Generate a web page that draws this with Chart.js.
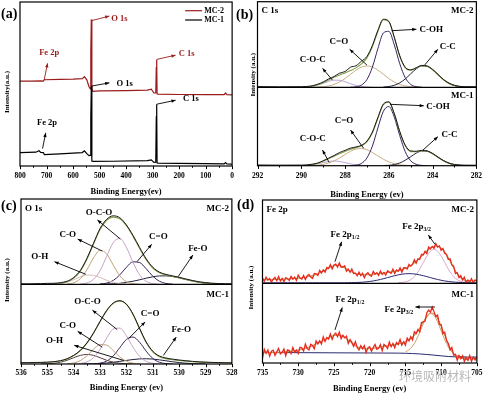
<!DOCTYPE html>
<html>
<head>
<meta charset="utf-8">
<title>XPS spectra of MC-1 and MC-2</title>
<script src="https://cdn.jsdelivr.net/npm/chart.js@4.4.1/dist/chart.umd.min.js"></script>
<style>
  body { margin: 0; background: #fff; }
  #fig { position: relative; width: 484px; height: 397px; overflow: hidden; background: #fff; }
  #fig canvas { position: absolute; }
  .tag { position: absolute; font: bold 14px "Liberation Serif", serif; color: #000; line-height: 1; }
  .mark { position: absolute; font: 12px "Noto Sans CJK SC", sans-serif; color: #b8b8b8; line-height: 1; }
</style>
</head>
<body>
<div id="fig">
  <canvas id="surveyChart" width="240" height="197" style="left:0;top:0"></canvas>
  <canvas id="c1sChart" width="252" height="200" style="left:236px;top:0"></canvas>
  <canvas id="o1sChart" width="242" height="200" style="left:0;top:197px"></canvas>
  <canvas id="fe2pChart" width="252" height="200" style="left:236px;top:197px"></canvas>
  <div class="tag" style="left:1px;top:7px">(a)</div>
  <div class="tag" style="left:236px;top:8px">(b)</div>
  <div class="tag" style="left:1px;top:199px">(c)</div>
  <div class="tag" style="left:237px;top:198px">(d)</div>
  <div class="mark" style="left:399px;top:370px">环境吸附材料</div>
</div>
<script>
// ---- (a) survey ----
const surveyEnergyMC2 = [800, 760, 720, 712, 708, 650, 600, 565, 557, 548, 540, 535, 533, 531, 529, 525, 500, 400, 320, 305, 295, 288, 286, 284.5, 283, 280, 200, 100, 30, 25, 20, 0];
const surveyMC2 = [51.7, 51.8, 51.9, 51.8, 52.6, 52.8, 53.0, 53.3, 54.5, 52.5, 48.5, 47, 70, 89.4, 47, 45.5, 45.8, 46.0, 46.3, 46.8, 44.5, 44.5, 60, 65, 44, 43.8, 43.6, 43.5, 43.5, 44.5, 43.5, 43.4];
const surveyEnergyMC1 = [800, 740, 728, 722, 712, 708, 650, 600, 565, 557, 548, 540, 535, 533, 531, 529, 525, 450, 320, 305, 295, 288, 286, 284.5, 283, 280, 200, 100, 30, 25, 20, 0];
const surveyMC1 = [8.2, 8.4, 9.3, 8.3, 8.2, 7.0, 7.4, 7.8, 8.2, 9.3, 7.5, 6.3, 6.5, 30, 48.7, 3.0, 2.8, 2.9, 3.3, 3.7, 2.2, 2.3, 30, 37.7, 1.9, 1.8, 1.6, 1.4, 1.3, 2.1, 1.3, 1.2];

// ---- (b) C 1s ----
const c1sEnergy = [292, 291, 290, 289.75, 289.5, 289.25, 289, 288.75, 288.5, 288.25, 288, 287.75, 287.5, 287.25, 287, 286.75, 286.5, 286.25, 286, 285.75, 285.5, 285.25, 285, 284.75, 284.5, 284.25, 284, 283.75, 283.5, 283.25, 283, 282.75, 282.5, 282];
const c1sRawMC2 = [0.8, 0.6, 0.7, 1.0, 1.8, 3.6, 6.2, 9.8, 12.6, 16.5, 18.4, 23.5, 25.2, 30.5, 36.0, 49.0, 66.5, 79.5, 77.0, 58.5, 36.8, 23.4, 20.5, 22.8, 25.6, 24.9, 20.9, 15.0, 9.1, 4.9, 2.4, 1.1, 0.7, 0.6];
const c1sFitMC2 = [0, 0, 0.1, 0.4, 1.2, 2.9, 5.4, 8.5, 11.8, 14.4, 16.8, 19.5, 22.7, 27.3, 34.4, 47.4, 65.2, 78.9, 76.6, 58.1, 36.1, 22.6, 19.9, 22.5, 25.1, 24.5, 20.5, 14.6, 8.8, 4.5, 2.0, 0.7, 0.2, 0];
const c1sRawMC1 = [0.9, 0.7, 0.8, 1.0, 1.9, 3.4, 6.3, 9.6, 13.0, 16.8, 19.5, 22.4, 23.9, 26.0, 31.5, 43.0, 61.5, 78.6, 81.5, 66.3, 43.6, 26.1, 18.9, 18.4, 19.6, 18.9, 15.7, 11.0, 6.6, 3.4, 1.6, 0.9, 0.7, 0.6];
const c1sFitMC1 = [0, 0, 0.1, 0.6, 1.4, 3.1, 5.7, 8.8, 12.1, 15.3, 18.2, 20.9, 23.0, 25.4, 30.3, 41.9, 60.6, 77.9, 80.9, 66.0, 43.1, 25.4, 18.0, 17.8, 19.1, 18.5, 15.2, 10.6, 6.2, 3.0, 1.2, 0.4, 0.1, 0];

function gap(before, values, after) {
  return Array(before).fill(null).concat(values, Array(after).fill(null));
}

const c1sCOH_MC2 = gap(11, [0.1, 0.5, 2.6, 9.1, 23.6, 45.2, 63.4, 65.4, 49.5, 27.5, 11.2, 3.4, 0.7, 0.1], 9);
const c1sCC_MC2 = gap(17, [0.3, 0.9, 2.4, 5.2, 9.8, 15.8, 21.5, 24.9, 24.5, 20.5, 14.6, 8.8, 4.5, 2.0, 0.7, 0.2, 0], 0);
const c1sCdO_MC2 = gap(4, [0.1, 0.3, 0.7, 1.6, 3.4, 6.2, 10.3, 15.2, 20.0, 23.7, 25.0, 23.7, 20.0, 15.2, 10.3, 6.2, 3.4, 1.6, 0.7, 0.3, 0.1], 9);
const c1sCOC_MC2 = gap(2, [0.1, 0.4, 1.1, 2.6, 4.7, 6.9, 8.4, 8.2, 6.5, 4.2, 2.2, 1.0, 0.3, 0.1], 18);
const c1sCOH_MC1 = gap(11, [0.1, 0.7, 2.9, 9.9, 25.1, 48.1, 69.4, 75.5, 61.9, 38.4, 17.9, 6.3, 1.7, 0.4, 0.1], 8);
const c1sCC_MC1 = gap(17, [0.2, 0.5, 1.5, 3.5, 7.0, 11.5, 16.0, 18.7, 18.4, 15.2, 10.6, 6.2, 3.0, 1.2, 0.4, 0.1, 0], 0);
const c1sCdO_MC1 = gap(3, [0.1, 0.3, 0.7, 1.7, 3.4, 6.1, 9.9, 14.2, 18.4, 21.2, 22.0, 20.3, 16.8, 12.5, 8.3, 4.9, 2.6, 1.2, 0.5, 0.2, 0.1], 10);
const c1sCOC_MC1 = gap(2, [0.1, 0.5, 1.1, 2.4, 4.0, 5.4, 6.0, 5.4, 4.0, 2.4, 1.1, 0.5, 0.1], 19);

// ---- (c) O 1s ----
const o1sEnergy = [536, 535.75, 535.5, 535.25, 535, 534.75, 534.5, 534.25, 534, 533.75, 533.5, 533.25, 533, 532.75, 532.5, 532.25, 532, 531.75, 531.5, 531.25, 531, 530.75, 530.5, 530.25, 530, 529.75, 529.5, 529.25, 529, 528.75, 528.5, 528.25, 528];
const o1sRawMC2 = [0.6, 0.5, 0.7, 0.8, 1.1, 1.2, 2.0, 3.6, 8.0, 16.2, 30.4, 48.0, 65.5, 76.2, 80.3, 78.0, 69.5, 57.3, 43.2, 29.8, 20.0, 14.3, 11.6, 9.9, 8.2, 6.3, 4.5, 3.0, 2.0, 1.3, 0.9, 0.7, 0.6];
const o1sFitMC2 = [0, 0, 0, 0, 0.1, 0.3, 1.0, 2.9, 7.2, 15.4, 29.3, 47.3, 64.2, 74.9, 78.7, 76.8, 68.7, 56.2, 42.0, 28.9, 19.1, 13.5, 10.9, 9.3, 7.6, 5.7, 3.9, 2.4, 1.4, 0.7, 0.3, 0.1, 0];
const o1sRawMC1 = [1.6, 1.7, 1.9, 2.0, 2.3, 2.9, 4.2, 6.6, 10.8, 17.0, 26.4, 38.9, 53.6, 67.2, 76.6, 79.4, 75.0, 62.5, 44.6, 27.6, 16.0, 10.0, 7.5, 6.1, 5.0, 4.1, 3.3, 2.7, 2.3, 2.0, 1.8, 1.6, 1.5];
const o1sFitMC1 = [1.5, 1.6, 1.7, 1.9, 2.2, 2.8, 4.0, 6.4, 10.6, 16.9, 26.1, 38.6, 53.2, 66.7, 76.0, 79.2, 74.9, 62.2, 44.1, 26.9, 15.3, 9.2, 6.7, 5.4, 4.4, 3.6, 2.9, 2.4, 2.1, 1.9, 1.7, 1.6, 1.5];

const o1sOCO_MC2 = gap(9, [0.3, 1.5, 5.8, 16.1, 32.8, 48.9, 53.7, 43.2, 25.6, 11.1, 3.5, 0.8, 0.1], 11);
const o1sCO_MC2 = gap(7, [0.3, 1.8, 6.5, 17.0, 31.0, 39.7, 35.7, 22.5, 10.0, 3.1, 0.7, 0.1], 14);
const o1sOH_MC2 = gap(4, [0.1, 0.3, 1.0, 2.6, 5.4, 8.6, 10.8, 10.5, 8.0, 4.7, 2.2, 0.8, 0.2], 16);
const o1sCdO_MC2 = gap(12, [0.3, 1.4, 4.5, 11.1, 20.0, 26.3, 25.5, 18.2, 9.5, 3.6, 1.0, 0.2], 9);
const o1sFeO_MC2 = gap(12, [0.1, 0.3, 0.6, 1.2, 2.2, 3.6, 5.3, 7.2, 8.8, 9.8, 9.9, 9.1, 7.6, 5.7, 3.9, 2.4, 1.4, 0.7, 0.3, 0.1, 0], 0);
const o1sOCO_MC1 = gap(8, [0.1, 0.7, 2.6, 7.9, 18.4, 32.5, 43.8, 45.0, 35.3, 21.1, 9.6, 3.3, 0.9, 0.2], 11);
const o1sCO_MC1 = gap(7, [0.3, 1.3, 4.2, 10.3, 18.5, 24.4, 23.7, 16.8, 8.8, 3.4, 1.0, 0.2], 14);
const o1sOH_MC1 = gap(3, [0.1, 0.3, 0.9, 2.3, 4.7, 7.9, 10.8, 12.0, 10.8, 7.9, 4.7, 2.3, 0.9, 0.3, 0.1], 15);
const o1sCdO_MC1 = gap(11, [0.2, 1.0, 3.7, 10.1, 20.6, 30.8, 33.8, 27.2, 16.1, 7.0, 2.2, 0.5, 0.1], 9);
const o1sFeO_MC1 = gap(9, [0.1, 0.2, 0.3, 0.7, 1.3, 2.1, 3.3, 4.5, 5.6, 6.4, 6.6, 6.2, 5.2, 4.0, 2.8, 1.8, 1.0, 0.5, 0.2, 0.1], 4);

// ---- (d) Fe 2p ----
const fe2pEnergy = [735, 734.75, 734.5, 734.25, 734, 733.75, 733.5, 733.25, 733, 732.75, 732.5, 732.25, 732, 731.75, 731.5, 731.25, 731, 730.75, 730.5, 730.25,
  730, 729.75, 729.5, 729.25, 729, 728.75, 728.5, 728.25, 728, 727.75, 727.5, 727.25, 727, 726.75, 726.5, 726.25, 726, 725.75, 725.5, 725.25,
  725, 724.75, 724.5, 724.25, 724, 723.75, 723.5, 723.25, 723, 722.75, 722.5, 722.25, 722, 721.75, 721.5, 721.25, 721, 720.75, 720.5, 720.25,
  720, 719.75, 719.5, 719.25, 719, 718.75, 718.5, 718.25, 718, 717.75, 717.5, 717.25, 717, 716.75, 716.5, 716.25, 716, 715.75, 715.5, 715.25,
  715, 714.75, 714.5, 714.25, 714, 713.75, 713.5, 713.25, 713, 712.75, 712.5, 712.25, 712, 711.75, 711.5, 711.25, 711, 710.75, 710.5, 710.25,
  710, 709.75, 709.5, 709.25, 709, 708.75, 708.5, 708.25, 708, 707.75, 707.5, 707.25, 707, 706.75, 706.5, 706.25, 706, 705.75, 705.5, 705.25, 705];
const fe2pRawMC2 = [6.6, 2.7, 7.5, 4.0, 5.8, 1.8, 5.1, 7.4, 3.3, 8.3, 2.8, 6.0, 2.1, 7.0, 5.6, 3.7, 8.5, 5.1, 7.5, 3.6,
  10.0, 6.4, 5.2, 9.4, 4.7, 8.9, 10.8, 7.7, 6.1, 12.0, 11.4, 9.7, 15.7, 12.6, 16.2, 13.6, 19.2, 17.9, 22.5, 17.5,
  22.1, 23.2, 19.7, 24.6, 19.4, 19.6, 21.1, 14.8, 17.3, 13.4, 17.3, 12.0, 12.3, 9.2, 13.6, 9.4, 12.2, 7.0, 11.1, 12.9,
  9.7, 8.5, 14.4, 11.1, 13.0, 9.8, 14.8, 10.8, 13.2, 10.1, 15.3, 13.6, 12.3, 17.2, 11.9, 16.2, 14.7, 18.8, 13.5, 18.9,
  18.6, 17.3, 22.9, 20.7, 22.9, 28.3, 24.2, 29.6, 28.7, 34.9, 34.2, 38.6, 35.8, 43.7, 41.3, 44.3, 42.2, 47.7, 43.7, 44.9,
  39.6, 42.0, 36.2, 34.8, 28.7, 29.5, 22.3, 20.8, 11.9, 12.9, 7.1, 9.3, 4.2, 7.5, 1.0, 4.2, 1.8, 5.7, 1.0, 4.3, 2.6];
const fe2pRawMC1 = [6.0, 17.1, 12.2, 16.3, 8.5, 14.7, 16.0, 9.6, 14.0, 18.4, 11.5, 13.4, 17.5, 9.1, 16.5, 15.6, 11.7, 19.5, 13.8, 16.1,
  12.0, 19.7, 19.0, 15.0, 23.7, 18.1, 16.5, 23.4, 21.9, 18.0, 27.7, 24.0, 28.0, 23.9, 32.9, 27.1, 32.0, 30.1, 36.4, 29.8,
  35.4, 37.6, 33.0, 38.8, 30.6, 34.9, 31.6, 33.7, 24.6, 29.5, 25.9, 21.0, 26.8, 19.4, 16.5, 21.8, 18.0, 21.7, 13.3, 19.0,
  20.4, 14.7, 19.4, 23.2, 17.2, 18.6, 23.2, 15.6, 23.3, 21.5, 18.3, 26.4, 20.6, 24.6, 19.2, 25.7, 23.3, 29.6, 22.6, 26.7,
  22.5, 31.4, 27.9, 33.0, 29.1, 39.2, 37.0, 42.2, 39.1, 50.8, 51.7, 52.7, 63.2, 66.5, 64.0, 70.2, 64.6, 58.6, 60.1, 48.5,
  48.2, 36.7, 38.8, 28.2, 24.6, 16.5, 19.4, 10.0, 10.8, 3.5, 9.5, 5.5, 9.0, 2.2, 6.5, 3.4, 9.4, 2.1, 7.4, 3.9, 8.3];

const fe2pFitEnergy = [735, 734.5, 734, 733.5, 733, 732.5, 732, 731.5, 731, 730.5, 730, 729.5, 729, 728.5, 728, 727.5, 727, 726.5, 726, 725.5,
  725, 724.5, 724, 723.5, 723, 722.5, 722, 721.5, 721, 720.5, 720, 719.5, 719, 718.5, 718, 717.5, 717, 716.5, 716, 715.5,
  715, 714.5, 714, 713.5, 713, 712.5, 712, 711.5, 711, 710.5, 710, 709.5, 709, 708.5, 708, 707.5, 707, 706.5, 706, 705.5, 705];
const fe2pFitMC2 = [4.5, 4.5, 4.6, 4.7, 4.8, 5.0, 5.2, 5.4, 5.7, 6.0, 6.4, 6.9, 7.5, 8.3, 9.4, 10.8, 12.6, 14.8, 17.2, 19.6,
  21.3, 21.8, 20.8, 18.7, 16.2, 13.8, 12.0, 10.9, 10.4, 10.4, 10.7, 11.2, 11.7, 12.2, 12.7, 13.2, 13.8, 14.5, 15.4, 16.6,
  18.2, 20.4, 23.2, 26.6, 30.5, 34.8, 39.0, 42.5, 44.5, 44.6, 42.3, 37.6, 30.8, 22.8, 14.9, 8.7, 5.0, 3.5, 3.1, 3.0, 3.0];
const fe2pBaseMC2 = [0.8, 0.8, 0.8, 0.8, 0.8, 0.8, 0.8, 0.8, 0.8, 0.8, 0.8, 0.8, 0.8, 0.8, 0.8, 0.8, 0.8, 0.8, 0.8, 0.8,
  0.8, 0.8, 0.8, 0.8, 0.9, 1.0, 1.1, 1.3, 1.5, 1.9, 2.4, 3.0, 3.8, 4.8, 5.8, 7.0, 8.2, 9.3, 10.3, 11.1,
  11.6, 11.8, 11.6, 11.1, 10.3, 9.3, 8.2, 7.0, 5.8, 4.8, 3.8, 3.0, 2.4, 1.9, 1.5, 1.3, 1.1, 1.0, 0.9, 0.8, 0.8];
const fe2pFitMC1 = [13.0, 13.0, 13.1, 13.2, 13.4, 13.6, 13.9, 14.3, 14.8, 15.4, 16.2, 17.2, 18.5, 20.0, 21.8, 23.8, 26.0, 28.3, 30.7, 33.0,
  34.6, 35.2, 34.4, 32.2, 29.0, 25.4, 22.0, 19.5, 18.2, 17.8, 18.0, 18.5, 19.2, 19.9, 20.7, 21.5, 22.3, 23.1, 24.0, 25.2,
  26.8, 29.0, 32.5, 37.5, 44.0, 51.5, 58.5, 62.8, 61.8, 56.0, 46.5, 35.0, 24.0, 15.0, 9.3, 6.8, 5.8, 5.5, 5.4, 5.4, 5.4];
const fe2pBaseEnergyMC1 = [735, 730, 725, 720, 716, 715, 714, 713, 712, 711, 710, 709, 708, 707, 706, 705];
const fe2pBaseMC1 = [13.2, 13.0, 12.8, 12.6, 12.4, 12.2, 11.9, 11.4, 10.7, 9.9, 9.0, 8.2, 7.7, 7.5, 7.4, 7.4];
const fe2pPeakEnergyMC2 = [716, 715.5, 715, 714.5, 714, 713.5, 713, 712.5, 712, 711.5, 711, 710.5, 710, 709.5, 709, 708.5, 708, 707.5, 707, 706.5, 706];
const fe2pPeakMC2 = [1.0, 1.2, 1.9, 3.4, 6.2, 10.8, 17.2, 25.1, 32.8, 38.6, 40.8, 38.6, 32.8, 25.1, 17.2, 10.8, 6.2, 3.4, 1.9, 1.2, 1.0];
const fe2pPeakEnergyMC1 = [715, 714.5, 714, 713.5, 713, 712.5, 712, 711.5, 711, 710.5, 710, 709.5, 709, 708.5, 708, 707.5, 707, 706.5];
const fe2pPeakMC1 = [14.1, 16.6, 21.2, 28.6, 38.5, 49.3, 58.1, 62.2, 59.8, 51.8, 40.5, 29.3, 20.2, 14.1, 10.4, 8.7, 7.9, 7.6];

// ---- drawing ----
Chart.defaults.font.family = '"Liberation Serif", "Times New Roman", serif';
Chart.defaults.color = '#000';
const serif = '"Liberation Serif", serif';

function curve(xs, ys, color, width, axis, order, smooth) {
  return {
    data: xs.map((x, i) => ({ x: x, y: ys[i] })),
    yAxisID: axis,
    borderColor: color,
    borderWidth: width,
    pointRadius: 0,
    fill: false,
    order: order,
    cubicInterpolationMode: smooth ? 'monotone' : 'default',
    tension: 0
  };
}

function arrow(ctx, x1, y1, x2, y2) {
  const ang = Math.atan2(y2 - y1, x2 - x1), h = 4.5;
  ctx.beginPath(); ctx.moveTo(x1, y1); ctx.lineTo(x2, y2); ctx.stroke();
  ctx.beginPath();
  ctx.moveTo(x2, y2);
  ctx.lineTo(x2 - h * Math.cos(ang - 0.38), y2 - h * Math.sin(ang - 0.38));
  ctx.lineTo(x2 - h * Math.cos(ang + 0.38), y2 - h * Math.sin(ang + 0.38));
  ctx.closePath(); ctx.fill();
}

function drawLabel(ctx, n, x, y, size) {
  const main = 'bold ' + size + 'px ' + serif;
  const small = 'bold ' + (size * 0.65).toFixed(1) + 'px ' + serif;
  ctx.font = main;
  const w1 = ctx.measureText(n.t).width;
  let w2 = 0;
  if (n.sub) { ctx.font = small; w2 = ctx.measureText(n.sub).width; }
  const w = w1 + w2;
  const x0 = n.al === 'left' ? x : n.al === 'right' ? x - w : x - w / 2;
  ctx.textAlign = 'left';
  ctx.font = main;
  ctx.fillText(n.t, x0, y);
  if (n.sub) { ctx.font = small; ctx.fillText(n.sub, x0 + w1, y + size * 0.3); }
}

const decor = {
  id: 'decor',
  afterDatasetsDraw(chart, args, o) {
    const { ctx, chartArea: a, scales } = chart;
    const sx = scales.x;
    ctx.save();
    ctx.strokeStyle = '#000';
    ctx.lineWidth = 1.2;
    ctx.strokeRect(a.left, a.top, a.right - a.left, a.bottom - a.top);
    let mid = a.top;
    if (scales.yTop) {
      mid = scales.yTop.getPixelForValue(0);
      ctx.beginPath(); ctx.moveTo(a.left, mid); ctx.lineTo(a.right, mid); ctx.stroke();
    }
    // outward ticks, majors every second minor
    ctx.lineWidth = 1;
    const count = Math.round((sx.max - sx.min) / o.minor);
    for (let i = 0; i <= count; i++) {
      const px = Math.round(sx.getPixelForValue(sx.min + i * o.minor)) + 0.5;
      ctx.beginPath(); ctx.moveTo(px, a.bottom); ctx.lineTo(px, a.bottom + (i % 2 ? 1.8 : 3.2)); ctx.stroke();
    }
    ctx.fillStyle = '#000';
    ctx.textBaseline = 'middle';
    ctx.save();
    ctx.translate(a.left - o.yTitle.dx, (a.top + a.bottom) / 2 + o.yTitle.dy);
    ctx.rotate(-Math.PI / 2);
    ctx.textAlign = 'center';
    ctx.font = 'bold 7px ' + serif;
    ctx.fillText(o.yTitle.text, 0, 0);
    ctx.restore();
    ctx.font = 'bold 9px ' + serif;
    for (const c of o.corners || []) {
      ctx.textAlign = c.left ? 'left' : 'right';
      ctx.fillText(c.t, c.left ? a.left + 4 : a.right - 3, (c.mid ? mid : a.top) + c.dy);
    }
    if (o.legend) {
      ctx.font = 'bold 8px ' + serif;
      ctx.textAlign = 'left';
      o.legend.forEach((l, i) => {
        const y = a.top + 8.7 + i * 9.3;
        ctx.strokeStyle = l.color; ctx.lineWidth = 1.2;
        ctx.beginPath(); ctx.moveTo(a.right - 47, y); ctx.lineTo(a.right - 30, y); ctx.stroke();
        ctx.fillStyle = '#000';
        ctx.fillText(l.label, a.right - 28, y);
      });
    }
    for (const n of o.notes || []) {
      const ys = scales[n.axis];
      ctx.strokeStyle = n.color || '#000';
      ctx.fillStyle = n.color || '#000';
      ctx.lineWidth = 0.9;
      arrow(ctx, sx.getPixelForValue(n.tail[0]), ys.getPixelForValue(n.tail[1]),
        sx.getPixelForValue(n.head[0]), ys.getPixelForValue(n.head[1]));
      drawLabel(ctx, n, sx.getPixelForValue(n.x), ys.getPixelForValue(n.y), o.noteSize);
    }
    ctx.restore();
  }
};
Chart.register(decor);

function xAxis(min, max, step, height, pad, title) {
  return {
    type: 'linear', min: min, max: max, reverse: true,
    afterFit(s) { s.height = height; },
    grid: { display: false, drawTicks: false },
    border: { display: false },
    ticks: { stepSize: step, autoSkip: false, maxRotation: 0, padding: pad, font: { size: 7.5, weight: 'bold' } },
    title: { display: true, text: title, font: { size: 8.5, weight: 'bold' }, padding: 0 }
  };
}

// two hidden axes sharing the plot: top spectrum above the divider, bottom one below it
function splitAxes(topFrac) {
  return {
    yTop: { type: 'linear', display: false, min: -100 * (1 - topFrac) / topFrac, max: 100 },
    yBot: { type: 'linear', display: false, min: 0, max: 100 / (1 - topFrac) }
  };
}

function makeChart(id, datasets, padding, scales, decorOpts) {
  return new Chart(document.getElementById(id), {
    type: 'line',
    data: { datasets: datasets },
    options: {
      responsive: false, animation: false, events: [],
      layout: { padding: padding },
      plugins: { legend: { display: false }, tooltip: { enabled: false }, decor: decorOpts },
      scales: scales
    }
  });
}

// (a)
const red = '#9a1c1c';
makeChart('surveyChart', [
  curve(surveyEnergyMC2, surveyMC2, red, 1.2, 'y', 1, false),
  curve(surveyEnergyMC1, surveyMC1, '#000', 1.2, 'y', 0, false)
], { left: 20, right: 6.5, top: 2, bottom: 0 },
  { x: xAxis(0, 800, 100, 31, 6, 'Binding Energy(ev)'), y: { type: 'linear', display: false, min: 0, max: 100 } },
  {
    minor: 50, noteSize: 8.5,
    yTitle: { text: 'Intensity(a.u.)', dx: 13.3, dy: 8 },
    legend: [{ label: 'MC-2', color: red }, { label: 'MC-1', color: '#000' }],
    notes: [
      { t: 'Fe 2p', x: 690, y: 69.3, axis: 'y', color: red, tail: [709, 52.4], head: [696, 62.6] },
      { t: 'O 1s', x: 456, y: 89.5, al: 'left', axis: 'y', color: red, tail: [531, 88.6], head: [463, 91.4] },
      { t: 'C 1s', x: 201, y: 68.7, al: 'left', axis: 'y', color: red, tail: [284, 65], head: [213, 67.6] },
      { t: 'Fe 2p', x: 698, y: 26.3, axis: 'y', tail: [715, 10.6], head: [703, 20.2] },
      { t: 'O 1s', x: 436, y: 50.3, al: 'left', axis: 'y', tail: [531, 48.7], head: [463, 50.7] },
      { t: 'C 1s', x: 185, y: 40.7, al: 'left', axis: 'y', tail: [284, 37.7], head: [213, 40.1] }
    ]
  });

// (b)
const green = '#86a04a', rawInk = '#1a1a1a';
makeChart('c1sChart', [
  curve(c1sEnergy, c1sRawMC2, rawInk, 1, 'yTop', 0, true),
  curve(c1sEnergy, c1sFitMC2, green, 1.1, 'yTop', 1, true),
  curve(c1sEnergy, c1sCOH_MC2, '#3c2360', 1, 'yTop', 2, true),
  curve(c1sEnergy, c1sCC_MC2, '#1f2140', 1, 'yTop', 2, true),
  curve(c1sEnergy, c1sCdO_MC2, '#c8ad84', 1, 'yTop', 2, true),
  curve(c1sEnergy, c1sCOC_MC2, '#b9a6d6', 1, 'yTop', 2, true),
  curve(c1sEnergy, c1sRawMC1, rawInk, 1, 'yBot', 0, true),
  curve(c1sEnergy, c1sFitMC1, green, 1.1, 'yBot', 1, true),
  curve(c1sEnergy, c1sCOH_MC1, '#3c2360', 1, 'yBot', 2, true),
  curve(c1sEnergy, c1sCC_MC1, '#1f2140', 1, 'yBot', 2, true),
  curve(c1sEnergy, c1sCdO_MC1, '#c8ad84', 1, 'yBot', 2, true),
  curve(c1sEnergy, c1sCOC_MC1, '#b9a6d6', 1, 'yBot', 2, true)
], { left: 21.5, right: 9, top: 1.7, bottom: 0 },
  Object.assign({ x: xAxis(282, 292, 2, 34.3, 6, 'Binding Energy (ev)') }, splitAxes(0.522)),
  {
    minor: 1, noteSize: 9,
    yTitle: { text: 'Intensity (a.u.)', dx: 4.8, dy: -9 },
    corners: [{ t: 'C 1s', left: true, dy: 8.5 }, { t: 'MC-2', dy: 8.5 }, { t: 'MC-1', dy: 8, mid: true }],
    notes: [
      { t: 'C-OH', x: 284.6, y: 67.8, al: 'left', axis: 'yTop', tail: [285.87, 66.1], head: [284.74, 67.8] },
      { t: 'C=O', x: 288.28, y: 53.3, axis: 'yTop', tail: [287.0, 26], head: [287.79, 44.4] },
      { t: 'C-O-C', x: 289.48, y: 31.9, axis: 'yTop', tail: [288.58, 8.5], head: [289.03, 22.2] },
      { t: 'C-C', x: 283.31, y: 47.4, axis: 'yTop', tail: [284.36, 26.1], head: [283.76, 44.4] },
      { t: 'C-OH', x: 284.29, y: 75, al: 'left', axis: 'yBot', tail: [285.94, 78.3], head: [284.4, 76.5] },
      { t: 'C=O', x: 288.05, y: 57, axis: 'yBot', tail: [287.15, 22.2], head: [287.75, 45.5] },
      { t: 'C-O-C', x: 289.48, y: 34.9, axis: 'yBot', tail: [288.73, 4.3], head: [289.03, 20] },
      { t: 'C-C', x: 283.23, y: 39.2, axis: 'yBot', tail: [284.44, 20], head: [283.76, 37] }
    ]
  });

// (c)
makeChart('o1sChart', [
  curve(o1sEnergy, o1sRawMC2, rawInk, 1, 'yTop', 0, true),
  curve(o1sEnergy, o1sFitMC2, green, 1.1, 'yTop', 1, true),
  curve(o1sEnergy, o1sOCO_MC2, '#c6a0c4', 1, 'yTop', 2, true),
  curve(o1sEnergy, o1sCO_MC2, '#c2a07a', 1, 'yTop', 2, true),
  curve(o1sEnergy, o1sOH_MC2, '#d8bcbc', 1, 'yTop', 2, true),
  curve(o1sEnergy, o1sCdO_MC2, '#3b2456', 1, 'yTop', 2, true),
  curve(o1sEnergy, o1sFeO_MC2, '#20203c', 1, 'yTop', 2, true),
  curve(o1sEnergy, o1sRawMC1, rawInk, 1, 'yBot', 0, true),
  curve(o1sEnergy, o1sFitMC1, green, 1.1, 'yBot', 1, true),
  curve(o1sEnergy, o1sOCO_MC1, '#c6a0c4', 1, 'yBot', 2, true),
  curve(o1sEnergy, o1sCO_MC1, '#c2a07a', 1, 'yBot', 2, true),
  curve(o1sEnergy, o1sOH_MC1, '#554040', 1, 'yBot', 2, true),
  curve(o1sEnergy, o1sCdO_MC1, '#3b2456', 1, 'yBot', 2, true),
  curve(o1sEnergy, o1sFeO_MC1, '#20203c', 1, 'yBot', 2, true)
], { left: 21, right: 7.5, top: 2, bottom: 4 },
  Object.assign({ x: xAxis(528, 536, 1, 29, 4.5, 'Binding Energy (ev)') }, splitAxes(0.517)),
  {
    minor: 0.5, noteSize: 9,
    yTitle: { text: 'Intensity (a.u.)', dx: 14.3, dy: -1.5 },
    corners: [{ t: 'O 1s', left: true, dy: 9.3 }, { t: 'MC-2', dy: 9.3 }, { t: 'MC-1', dy: 10, mid: true }],
    notes: [
      { t: 'O-C-O', x: 533.04, y: 84.4, axis: 'yTop', tail: [532.23, 53.1], head: [533.1, 75.4] },
      { t: 'C-O', x: 534.23, y: 58.6, axis: 'yTop', tail: [532.92, 39], head: [533.85, 53] },
      { t: 'O-H', x: 535.29, y: 32.4, axis: 'yTop', tail: [533.54, 11.7], head: [534.73, 26.5] },
      { t: 'C=O', x: 530.79, y: 55.8, axis: 'yTop', tail: [531.6, 26.5], head: [531.04, 46.9] },
      { t: 'Fe-O', x: 529.29, y: 42.2, axis: 'yTop', tail: [530.04, 8.9], head: [529.48, 34.3] },
      { t: 'O-C-O', x: 533.48, y: 78, axis: 'yBot', tail: [532.35, 43.2], head: [533.29, 67.6] },
      { t: 'C-O', x: 534.23, y: 48.6, axis: 'yBot', tail: [532.92, 21.2], head: [533.85, 41] },
      { t: 'O-H', x: 534.73, y: 28.8, axis: 'yBot', tail: [532.1, 4.4], head: [533.98, 23.4] },
      { t: 'C=O', x: 531.1, y: 63.4, axis: 'yBot', tail: [531.92, 31.8], head: [531.29, 52.8] },
      { t: 'Fe-O', x: 529.92, y: 43.2, axis: 'yBot', tail: [530.6, 10.7], head: [530.11, 33.8] }
    ]
  });

// (d)
const feRed = '#e62a1e', tan = '#c49a50', navy = '#2b2b70';
makeChart('fe2pChart', [
  curve(fe2pEnergy, fe2pRawMC2, feRed, 1.3, 'yTop', 0, false),
  curve(fe2pFitEnergy, fe2pFitMC2, tan, 1.1, 'yTop', 1, true),
  curve(fe2pFitEnergy, fe2pBaseMC2, navy, 1, 'yTop', 2, true),
  curve(fe2pPeakEnergyMC2, fe2pPeakMC2, '#d8a8d0', 1, 'yTop', 2, true),
  curve(fe2pEnergy, fe2pRawMC1, feRed, 1.3, 'yBot', 0, false),
  curve(fe2pFitEnergy, fe2pFitMC1, tan, 1.1, 'yBot', 1, true),
  curve(fe2pBaseEnergyMC1, fe2pBaseMC1, navy, 1, 'yBot', 2, true),
  curve(fe2pPeakEnergyMC1, fe2pPeakMC1, '#c9a46a', 1, 'yBot', 2, true)
], { left: 26.5, right: 11, top: 3, bottom: 3 },
  Object.assign({ x: xAxis(705, 735, 5, 31, 5.5, 'Binding Energy (ev)') }, splitAxes(0.512)),
  {
    minor: 2.5, noteSize: 9,
    yTitle: { text: 'Intensity (a.u.)', dx: 11, dy: 6 },
    corners: [{ t: 'Fe 2p', left: true, dy: 10 }, { t: 'MC-2', dy: 10 }, { t: 'MC-1', dy: 11, mid: true }],
    notes: [
      { t: 'Fe 2p', sub: '1/2', x: 723.46, y: 58.1, axis: 'yTop', tail: [724.86, 26.1], head: [723.93, 50] },
      { t: 'Fe 2p', sub: '3/2', x: 713.43, y: 68, axis: 'yTop', tail: [710.87, 47], head: [711.8, 58.1] },
      { t: 'Fe 2p', sub: '1/2', x: 722.76, y: 79, axis: 'yBot', tail: [724.86, 41.6], head: [723.84, 69.7] },
      { t: 'Fe 2p', sub: '3/2', x: 713.9, y: 67.1, al: 'right', axis: 'yBot', tail: [710.87, 70.4], head: [713.6, 70.4] }
    ]
  });
</script>
</body>
</html>
